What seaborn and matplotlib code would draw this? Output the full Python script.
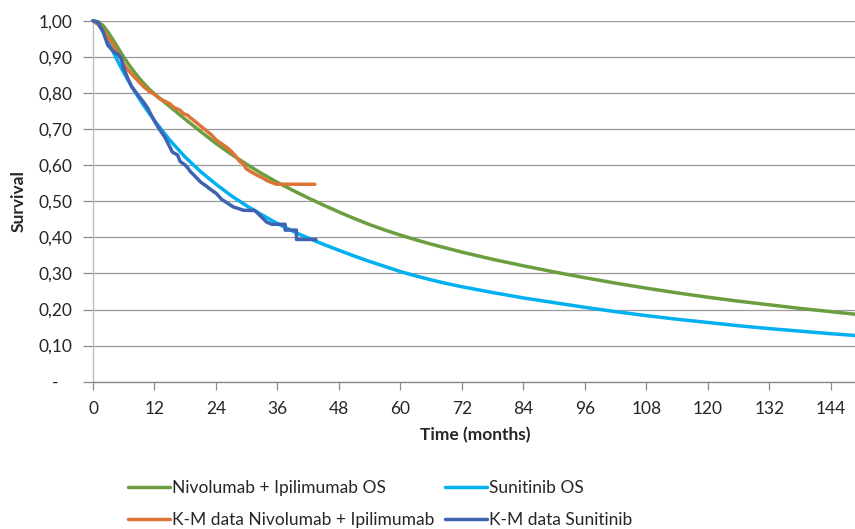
import matplotlib
matplotlib.use("Agg")
import matplotlib.pyplot as plt
import seaborn as sns
import pandas as pd

# ---- data ----
ni_os_t = [0, 1, 2, 3, 4, 5, 6, 7, 8, 9, 10, 11, 12, 15, 18, 21, 24, 27, 30, 33, 36, 39, 42,
           45, 48, 51, 54, 57, 60, 63, 66, 69, 72, 78, 84, 90, 96, 102, 108, 114, 120, 126,
           132, 138, 144, 148.7]
ni_os_s = [1.000, 0.997, 0.986, 0.967, 0.945, 0.922, 0.899, 0.878, 0.859, 0.841, 0.825, 0.810,
           0.797, 0.762, 0.727, 0.693, 0.660, 0.630, 0.602, 0.576, 0.552, 0.530, 0.509, 0.489,
           0.470, 0.452, 0.435, 0.420, 0.406, 0.393, 0.381, 0.370, 0.359, 0.339, 0.321, 0.304,
           0.288, 0.273, 0.259, 0.246, 0.234, 0.223, 0.213, 0.203, 0.194, 0.187]

su_os_t = [0, 1, 2, 3, 4, 5, 6, 8, 10, 12, 15, 18, 21, 24, 27, 30, 33, 36, 40, 44, 48, 51,
           54, 57, 60, 63, 66, 69, 72, 78, 84, 90, 96, 102, 108, 114, 120, 126, 132, 138,
           144, 148.7]
su_os_s = [1.000, 0.990, 0.970, 0.941, 0.912, 0.883, 0.856, 0.807, 0.763, 0.723, 0.669, 0.622,
           0.582, 0.547, 0.515, 0.487, 0.462, 0.438, 0.410, 0.386, 0.364, 0.348, 0.333, 0.319,
           0.305, 0.293, 0.282, 0.272, 0.263, 0.247, 0.232, 0.219, 0.206, 0.194, 0.183, 0.173,
           0.164, 0.155, 0.147, 0.140, 0.133, 0.128]

km_ni_t = [0, 0.5, 1, 1.5, 2, 2.5, 3, 3.5, 4, 4.5, 5, 5.5, 6, 6.5, 7, 7.5, 8, 8.5, 9, 9.5,
           10, 10.5, 11, 12, 12.5, 13, 14, 15, 15.5, 16, 17, 17.6, 18.5, 19, 20, 21, 22, 23,
           24.1, 25, 26, 27, 28, 28.7, 29.3, 29.9, 31, 32, 33, 34, 35, 35.8, 43.3]
km_ni_s = [1.000, 0.995, 0.990, 0.983, 0.973, 0.962, 0.952, 0.943, 0.932, 0.920, 0.906, 0.893,
           0.880, 0.870, 0.861, 0.853, 0.845, 0.838, 0.830, 0.823, 0.816, 0.810, 0.804, 0.796,
           0.790, 0.784, 0.777, 0.770, 0.763, 0.758, 0.752, 0.743, 0.738, 0.731, 0.720, 0.708,
           0.697, 0.685, 0.669, 0.660, 0.650, 0.638, 0.622, 0.609, 0.604, 0.590, 0.580, 0.572,
           0.565, 0.557, 0.551, 0.547, 0.547]

km_su_t = [0, 1, 2, 2.9, 4, 5, 5.5, 6, 6.8, 7.5, 8.8, 10, 10.7, 11.5, 12.4, 13.3, 14, 15,
           15.5, 16.5, 17, 18, 18.5, 19, 20, 21, 22, 23, 24.1, 25.1, 26, 27.4, 28.3, 29.3,
           31.6, 32.9, 33.9, 34.9, 37.5, 37.5, 39.7, 39.7, 43.5]
km_su_s = [1.000, 0.995, 0.968, 0.932, 0.915, 0.905, 0.896, 0.868, 0.840, 0.818, 0.794, 0.772,
           0.757, 0.735, 0.712, 0.692, 0.678, 0.650, 0.636, 0.628, 0.610, 0.600, 0.592, 0.582,
           0.568, 0.553, 0.543, 0.532, 0.521, 0.505, 0.497, 0.484, 0.480, 0.475, 0.474, 0.456,
           0.442, 0.436, 0.436, 0.420, 0.420, 0.394, 0.394]

labels = ["Nivolumab + Ipilimumab OS", "Sunitinib OS",
          "K-M data Nivolumab + Ipilimumab", "K-M data Sunitinib"]
x_ticks = list(range(0, 145, 12))
y_ticks = [0.0, 0.1, 0.2, 0.3, 0.4, 0.5, 0.6, 0.7, 0.8, 0.9, 1.0]
y_tick_labels = ["-   ", "0,10", "0,20", "0,30", "0,40", "0,50", "0,60", "0,70", "0,80",
                 "0,90", "1,00"]

# ---- style ----
sns.set_style("white")
plt.rcParams["font.family"] = ["Lato", "DejaVu Sans"]
FS = 12.5
TXT = "#262626"
GRID = "#9a9a9a"

c_green = "#6b9e3f"
c_cyan = "#00b0f0"
c_orange = "#dc7434"
c_blue = "#3f63b0"

fig = plt.figure(figsize=(8.55, 5.29), dpi=100)
ax = fig.add_axes([93 / 855, 1 - 381.7 / 529, 1 - 93 / 855, (381.7 - 20.7) / 529])

df_ni = pd.DataFrame({"t": ni_os_t, "s": ni_os_s})
df_su = pd.DataFrame({"t": su_os_t, "s": su_os_s})
df_kn = pd.DataFrame({"t": km_ni_t, "s": km_ni_s})
df_ks = pd.DataFrame({"t": km_su_t, "s": km_su_s})

LW = 2.5
sns.lineplot(data=df_ni, x="t", y="s", ax=ax, color=c_green, lw=LW, estimator=None,
             sort=False, label=labels[0], clip_on=False, zorder=3)
sns.lineplot(data=df_kn, x="t", y="s", ax=ax, color=c_orange, lw=LW, estimator=None,
             sort=False, label=labels[2], clip_on=False, zorder=4)
sns.lineplot(data=df_su, x="t", y="s", ax=ax, color=c_cyan, lw=LW, estimator=None,
             sort=False, label=labels[1], clip_on=False, zorder=3)
sns.lineplot(data=df_ks, x="t", y="s", ax=ax, color=c_blue, lw=LW, estimator=None,
             sort=False, label=labels[3], clip_on=False, zorder=4)

ax.set_xlim(0, 148.7)
ax.set_ylim(0, 1.0)
ax.set_xticks(x_ticks)
ax.set_xticklabels([str(v) for v in x_ticks])
ax.set_yticks(y_ticks)
ax.set_yticklabels(y_tick_labels)

ax.yaxis.grid(True, color=GRID, lw=0.9)
ax.xaxis.grid(False)
ax.set_axisbelow(True)

for s in ["top", "right"]:
    ax.spines[s].set_visible(False)
ax.spines["left"].set_color("#bdbdbd")
ax.spines["left"].set_linewidth(1.0)
ax.spines["bottom"].set_color("#8a8a8a")
ax.spines["bottom"].set_linewidth(1.0)

ax.tick_params(axis="x", direction="out", length=6, width=0.9, color="#8a8a8a",
               labelsize=FS, labelcolor=TXT, pad=8, bottom=True)
ax.tick_params(axis="y", direction="out", length=7, width=0.9, color="#8a8a8a",
               labelsize=FS, labelcolor=TXT, pad=8, left=True)

ax.set_xlabel("Time (months)", fontsize=FS, fontweight="bold", color=TXT)
ax.set_ylabel("Survival", fontsize=FS, fontweight="bold", color=TXT)
ax.xaxis.set_label_coords(0.502, -0.125)
ax.yaxis.set_label_coords(-0.087, 0.5)

handles, labs = ax.get_legend_handles_labels()
order = [labs.index(labels[0]), labs.index(labels[2]), labs.index(labels[1]), labs.index(labels[3])]
leg = ax.legend([handles[i] for i in order], [labs[i] for i in order], ncol=2,
                loc="upper left", bbox_to_anchor=(128 / 855, 1 - 480 / 529),
                bbox_transform=fig.transFigure, frameon=False, fontsize=FS,
                handlelength=2.4, handletextpad=0.15, columnspacing=0.6,
                labelspacing=0.95, borderpad=0, borderaxespad=0)
for t in leg.get_texts():
    t.set_color(TXT)

fig.savefig("out.png", dpi=100)
